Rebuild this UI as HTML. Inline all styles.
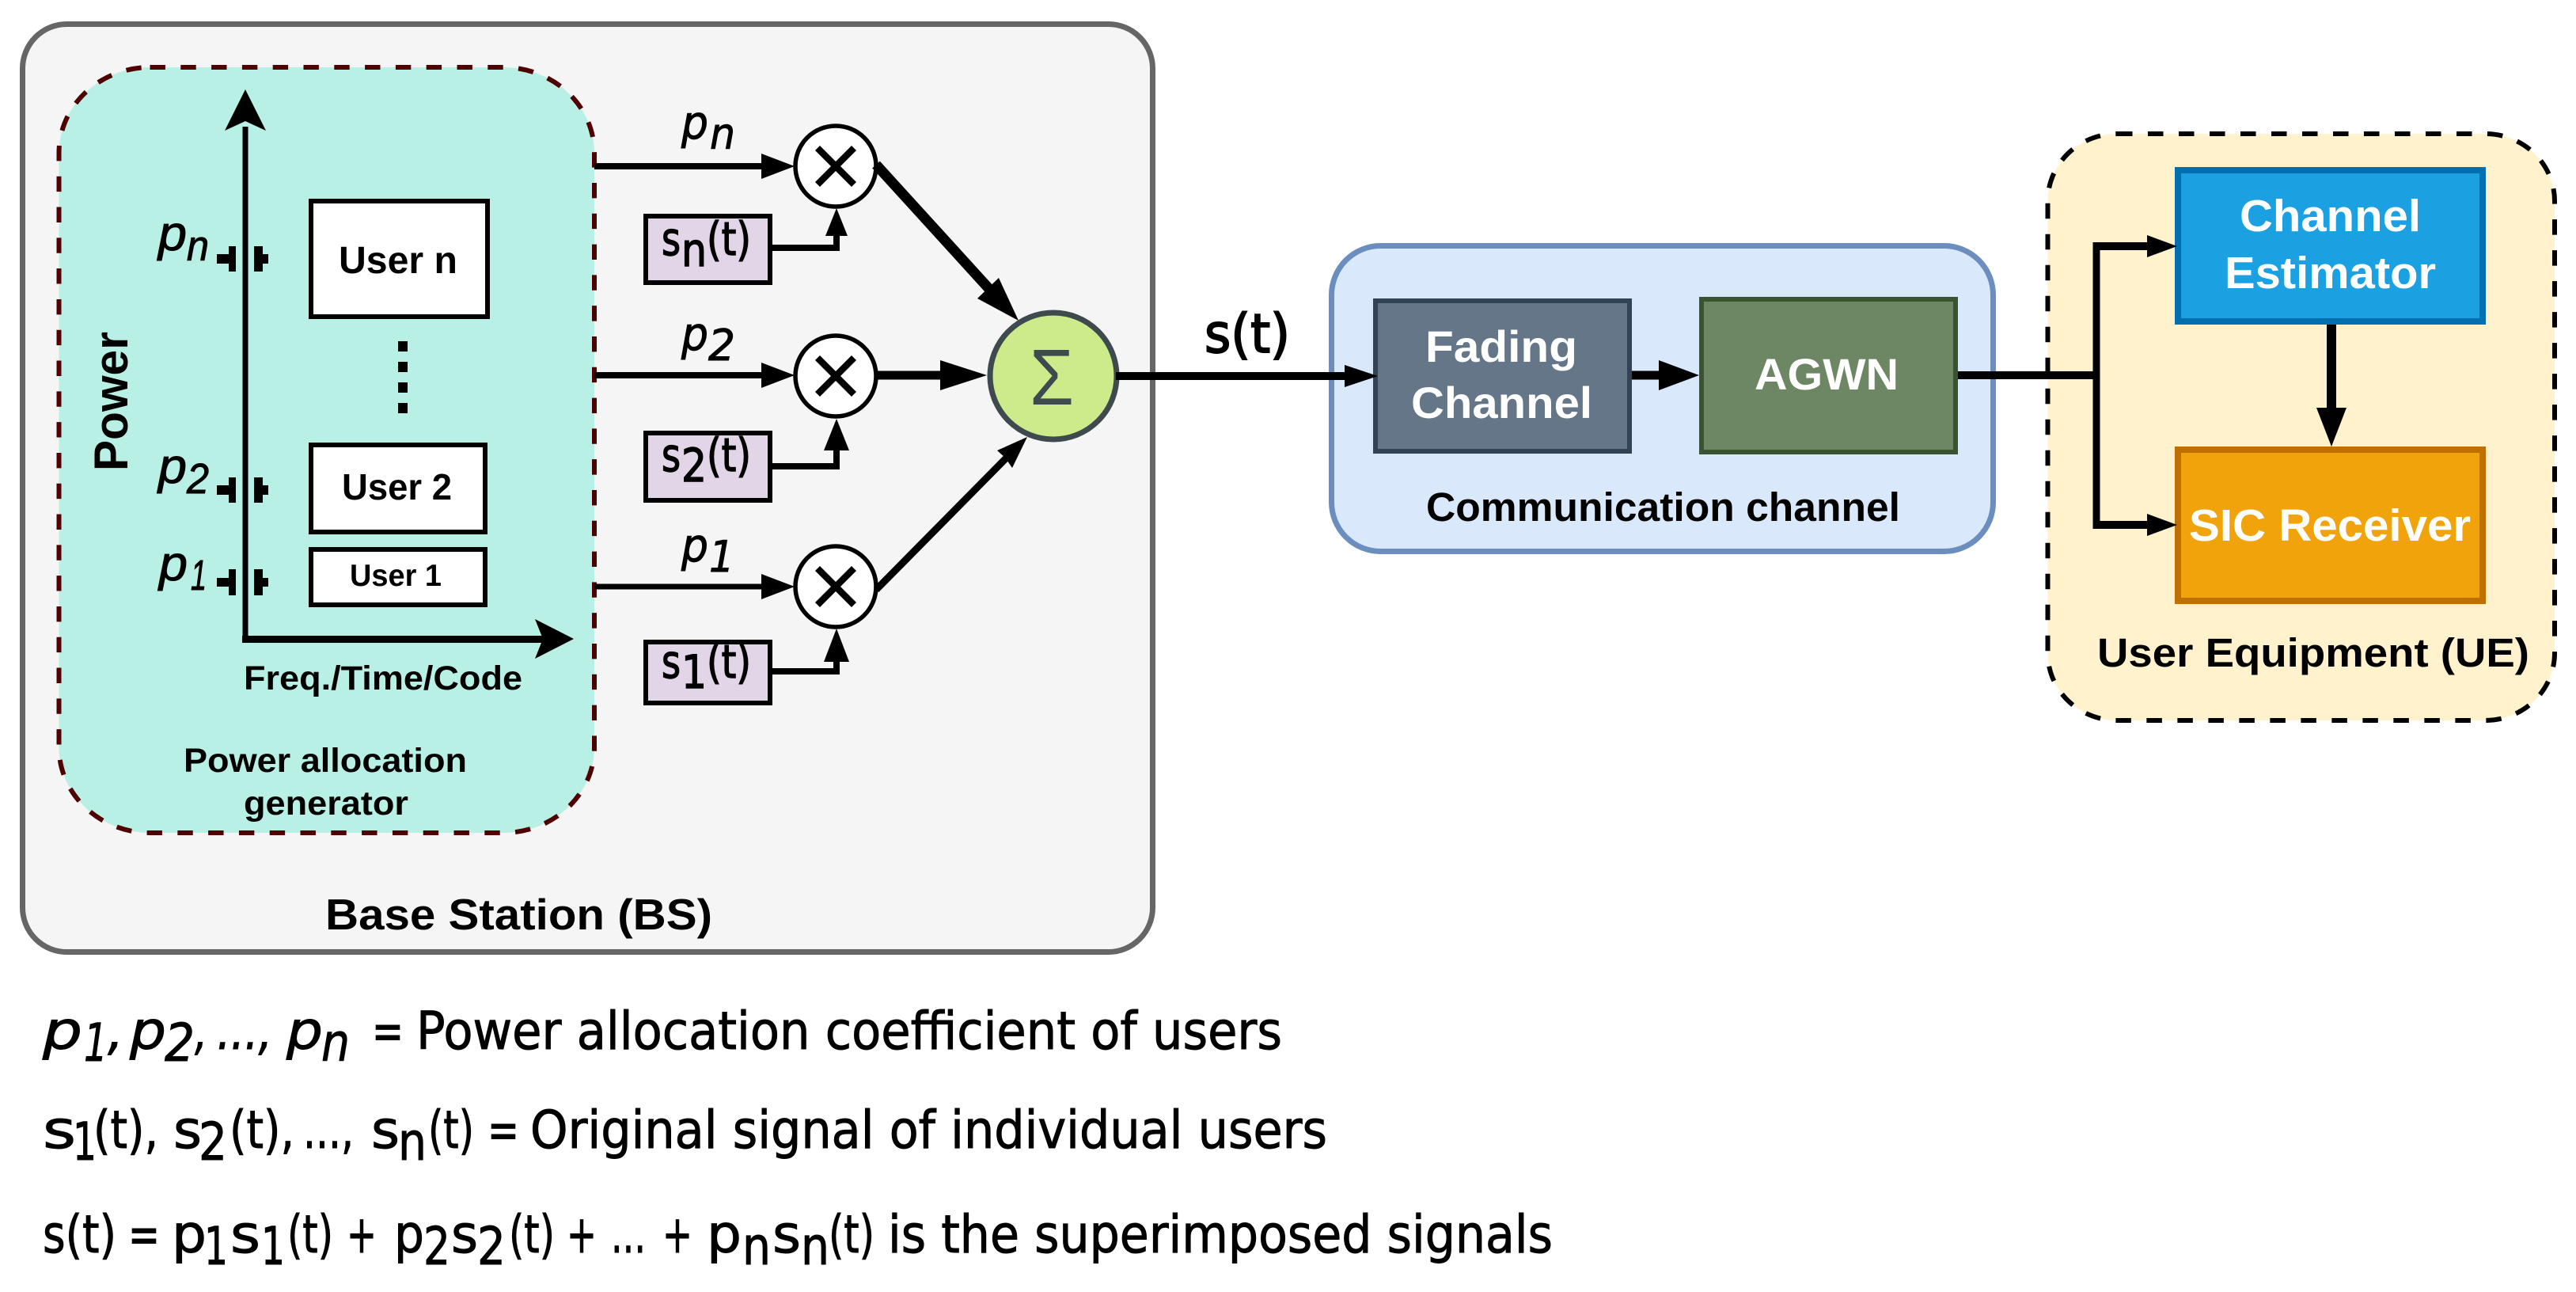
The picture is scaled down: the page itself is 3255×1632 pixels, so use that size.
<!DOCTYPE html>
<html>
<head>
<meta charset="utf-8">
<style>
html,body{margin:0;padding:0;background:#fff;}
svg{display:block;}
.b{font-family:"Liberation Sans",sans-serif;font-weight:bold;}
.w{fill:#fff;}
.i{font-family:"Liberation Sans",sans-serif;font-style:italic;stroke:#000;stroke-width:1;}
.n{font-family:"DejaVu Sans","Liberation Sans",sans-serif;stroke:#000;stroke-width:1;}
.m{font-family:"DejaVu Sans","Liberation Sans",sans-serif;font-style:italic;stroke:#000;stroke-width:1;}
</style>
</head>
<body>
<svg xmlns="http://www.w3.org/2000/svg" width="3255" height="1632" viewBox="0 0 3255 1632">
<rect width="3255" height="1632" fill="#fff"/>

<!-- Base station -->
<rect x="28.5" y="30.5" width="1428" height="1172" rx="56" ry="56" fill="#f5f5f5" stroke="#666" stroke-width="7"/>
<!-- Power allocation generator -->
<rect x="74.5" y="85" width="676.5" height="967" rx="115" ry="108" fill="#b9f0e5" stroke="#4f0000" stroke-width="6" stroke-dasharray="19.4 19.4"/>

<!-- axes -->
<path d="M310 160V807H680" fill="none" stroke="#000" stroke-width="7"/>
<rect x="306" y="803" width="380" height="9" fill="#000"/>
<polygon points="310,113 336,165 310,153 284,165" fill="#000"/>
<polygon points="725,807 676,782 686,807 676,832" fill="#000"/>
<!-- ticks -->
<g fill="#000">
<path d="M274 321h15v-10h9v32h-9v-10h-15zM321 311h11v10h7v12h-7v10h-11z"/>
<path d="M274 613h15v-10h9v32h-9v-10h-15zM321 603h11v10h7v12h-7v10h-11z"/>
<path d="M274 730h15v-11h9v33h-9v-11h-15zM321 719h11v11h7v11h-7v11h-11z"/>
</g>
<!-- user boxes -->
<rect x="393" y="254" width="223" height="146" fill="#fff" stroke="#000" stroke-width="6"/>
<rect x="393" y="562" width="220" height="110" fill="#fff" stroke="#000" stroke-width="6"/>
<rect x="393" y="694" width="220" height="70" fill="#fff" stroke="#000" stroke-width="6"/>
<g fill="#000">
<rect x="503" y="431" width="12" height="13"/>
<rect x="503" y="457" width="12" height="13"/>
<rect x="503" y="483" width="12" height="13"/>
<rect x="503" y="509" width="12" height="13"/>
</g>

<text class="b" x="428" y="345" font-size="48" textLength="150" lengthAdjust="spacingAndGlyphs">User n</text>
<text class="b" x="432" y="631" font-size="46" textLength="139" lengthAdjust="spacingAndGlyphs">User 2</text>
<text class="b" x="442" y="740" font-size="39" textLength="116" lengthAdjust="spacingAndGlyphs">User 1</text>
<text class="b" x="308" y="871" font-size="43" textLength="352" lengthAdjust="spacingAndGlyphs">Freq./Time/Code</text>
<text class="b" x="232" y="975" font-size="43" textLength="358" lengthAdjust="spacingAndGlyphs">Power allocation</text>
<text class="b" x="308" y="1029" font-size="43" textLength="208" lengthAdjust="spacingAndGlyphs">generator</text>
<text class="b" x="411" y="1174" font-size="55" textLength="489" lengthAdjust="spacingAndGlyphs">Base Station (BS)</text>
<text class="b" font-size="60" transform="translate(161,595) rotate(-90)" textLength="176" lengthAdjust="spacingAndGlyphs">Power</text>

<!-- left p labels -->
<text class="i" x="200" y="316" font-size="62" textLength="36" lengthAdjust="spacingAndGlyphs">p</text>
<text class="i" x="236" y="329" font-size="54" textLength="28" lengthAdjust="spacingAndGlyphs">n</text>
<text class="i" x="200" y="610" font-size="62" textLength="36" lengthAdjust="spacingAndGlyphs">p</text>
<text class="i" x="236" y="623" font-size="54" textLength="28" lengthAdjust="spacingAndGlyphs">2</text>
<text class="i" x="201" y="733" font-size="62" textLength="36" lengthAdjust="spacingAndGlyphs">p</text>
<text class="i" x="241" y="745" font-size="54" textLength="20" lengthAdjust="spacingAndGlyphs">1</text>

<!-- wires to multipliers -->
<g fill="#000">
<rect x="751" y="206" width="215" height="8"/>
<polygon points="1004,210 962,194 962,226"/>
<rect x="751" y="470" width="215" height="8"/>
<polygon points="1004,474 962,458 962,490"/>
<rect x="751" y="737.5" width="215" height="7"/>
<polygon points="1004,741 962,725 962,757"/>
</g>
<!-- multipliers -->
<g fill="#fff" stroke="#000" stroke-width="5.5">
<circle cx="1056" cy="210" r="51"/>
<circle cx="1056" cy="475" r="51"/>
<circle cx="1056" cy="741" r="51"/>
</g>
<g stroke="#000" stroke-width="8.5" fill="none">
<path d="M1033 187L1079 233M1079 187L1033 233"/>
<path d="M1033 452L1079 498M1079 452L1033 498"/>
<path d="M1033 718L1079 764M1079 718L1033 764"/>
</g>

<!-- signal boxes -->
<g fill="#e1d5e7" stroke="#000" stroke-width="6">
<rect x="816" y="273" width="157" height="84"/>
<rect x="816" y="547" width="157" height="85"/>
<rect x="816" y="811" width="157" height="77"/>
</g>
<path d="M973 313H1057V295" fill="none" stroke="#000" stroke-width="8"/>
<polygon points="1057,263 1071,298 1043,298" fill="#000"/>
<path d="M973 589H1057V565" fill="none" stroke="#000" stroke-width="8"/>
<polygon points="1057,529 1073,569 1041,569" fill="#000"/>
<path d="M973 848H1057V832" fill="none" stroke="#000" stroke-width="8"/>
<polygon points="1057,794 1073,836 1041,836" fill="#000"/>

<text class="n" x="836" y="322" font-size="58" textLength="24" lengthAdjust="spacingAndGlyphs" style="stroke-width:1.5">s</text>
<text class="n" x="861" y="336" font-size="58" textLength="32" lengthAdjust="spacingAndGlyphs" style="stroke-width:1.5">n</text>
<text class="n" x="893" y="322" font-size="58" textLength="56" lengthAdjust="spacingAndGlyphs" style="stroke-width:1.5">(t)</text>
<text class="n" x="836" y="595" font-size="58" textLength="24" lengthAdjust="spacingAndGlyphs" style="stroke-width:1.5">s</text>
<text class="n" x="861" y="608" font-size="58" textLength="32" lengthAdjust="spacingAndGlyphs" style="stroke-width:1.5">2</text>
<text class="n" x="893" y="595" font-size="58" textLength="56" lengthAdjust="spacingAndGlyphs" style="stroke-width:1.5">(t)</text>
<text class="n" x="836" y="856" font-size="58" textLength="24" lengthAdjust="spacingAndGlyphs" style="stroke-width:1.5">s</text>
<text class="n" x="861" y="869" font-size="58" textLength="32" lengthAdjust="spacingAndGlyphs" style="stroke-width:1.5">1</text>
<text class="n" x="893" y="856" font-size="58" textLength="56" lengthAdjust="spacingAndGlyphs" style="stroke-width:1.5">(t)</text>

<!-- middle p labels -->
<text class="m" x="861" y="175" font-size="58" textLength="34" lengthAdjust="spacingAndGlyphs">p</text>
<text class="m" x="897" y="188" font-size="54" textLength="32" lengthAdjust="spacingAndGlyphs">n</text>
<text class="m" x="861" y="442" font-size="58" textLength="34" lengthAdjust="spacingAndGlyphs">p</text>
<text class="m" x="895" y="455" font-size="54" textLength="34" lengthAdjust="spacingAndGlyphs">2</text>
<text class="m" x="861" y="709" font-size="58" textLength="34" lengthAdjust="spacingAndGlyphs">p</text>
<text class="m" x="896" y="722" font-size="54" textLength="32" lengthAdjust="spacingAndGlyphs">1</text>

<!-- to summer -->
<line x1="1107" y1="208" x2="1250" y2="365" stroke="#000" stroke-width="13"/>
<polygon points="1287,405 1262,351 1235,377" fill="#000"/>
<rect x="1107" y="468.5" width="85" height="11" fill="#000"/>
<polygon points="1247,474 1188,455 1188,493" fill="#000"/>
<line x1="1107" y1="745" x2="1272" y2="578" stroke="#000" stroke-width="9"/>
<polygon points="1298,552 1260,569 1270,578 1279,591" fill="#000"/>

<!-- summer -->
<circle cx="1331" cy="475" r="80" fill="#cdeb8b" stroke="#3f4a4f" stroke-width="7"/>
<text x="1301" y="511" font-family="'Liberation Sans',sans-serif" font-size="100" fill="#3f4a4f" textLength="56" lengthAdjust="spacingAndGlyphs">Σ</text>

<!-- Comm channel -->
<rect x="1682.5" y="310.5" width="836" height="386" rx="62" ry="62" fill="#dae8fc" stroke="#6c8ebf" stroke-width="7"/>
<rect x="1738" y="380" width="321" height="190" fill="#647687" stroke="#314354" stroke-width="6"/>
<rect x="2150" y="378" width="321" height="193" fill="#6d8764" stroke="#3a5431" stroke-width="6"/>

<!-- UE -->
<rect x="2587.5" y="169" width="640.5" height="741" rx="87.5" ry="85" fill="#fff2cc" stroke="#000" stroke-width="6" stroke-dasharray="19.5 19.5"/>
<rect x="2752" y="215" width="385" height="191" fill="#1ba1e2" stroke="#006eaf" stroke-width="8"/>
<rect x="2752" y="568" width="385" height="191" fill="#f0a30a" stroke="#bd7000" stroke-width="8"/>

<!-- main wires -->
<g fill="#000">
<rect x="1410" y="470" width="295" height="10"/>
<polygon points="1741,475 1699,461 1699,489"/>
<rect x="2062" y="468.5" width="40" height="11"/>
<polygon points="2147,474 2096,455 2096,493"/>
<rect x="2474" y="469" width="178" height="10"/>
<rect x="2644.5" y="306" width="9" height="362"/>
<rect x="2644.5" y="306" width="72" height="10"/>
<polygon points="2751,311 2713,297 2713,325"/>
<rect x="2644.5" y="658" width="72" height="10"/>
<polygon points="2751,663 2713,649 2713,677"/>
<rect x="2940" y="410" width="12" height="110"/>
<polygon points="2946,564 2927,515 2965,515"/>
</g>

<text class="n" x="1522" y="445" font-size="68" textLength="108" lengthAdjust="spacingAndGlyphs" style="stroke-width:2">s(t)</text>

<text class="b w" x="1801" y="457" font-size="56" textLength="192" lengthAdjust="spacingAndGlyphs">Fading</text>
<text class="b w" x="1783" y="528" font-size="56" textLength="229" lengthAdjust="spacingAndGlyphs">Channel</text>
<text class="b w" x="2217" y="492" font-size="56" textLength="182" lengthAdjust="spacingAndGlyphs">AGWN</text>
<text class="b" x="1802" y="658" font-size="51" textLength="599" lengthAdjust="spacingAndGlyphs">Communication channel</text>
<text class="b w" x="2830" y="292" font-size="57" textLength="229" lengthAdjust="spacingAndGlyphs">Channel</text>
<text class="b w" x="2811" y="364" font-size="57" textLength="267" lengthAdjust="spacingAndGlyphs">Estimator</text>
<text class="b w" x="2766" y="683" font-size="57" textLength="356" lengthAdjust="spacingAndGlyphs">SIC Receiver</text>
<text class="b" x="2650" y="842" font-size="51" textLength="546" lengthAdjust="spacingAndGlyphs">User Equipment (UE)</text>

<!-- Bottom text line 1 -->
<g font-size="66">
<text class="m" x="54" y="1325" textLength="50" lengthAdjust="spacingAndGlyphs">p</text>
<text class="m" x="106" y="1340" textLength="30" lengthAdjust="spacingAndGlyphs">1</text>
<text class="m" x="136" y="1325" textLength="20" lengthAdjust="spacingAndGlyphs">,</text>
<text class="m" x="164" y="1325" textLength="46" lengthAdjust="spacingAndGlyphs">p</text>
<text class="m" x="208" y="1340" textLength="38" lengthAdjust="spacingAndGlyphs">2</text>
<text class="m" x="246" y="1325" textLength="16" lengthAdjust="spacingAndGlyphs">,</text>
<text class="m" x="274" y="1325" textLength="70" lengthAdjust="spacingAndGlyphs">...,</text>
<text class="m" x="362" y="1325" textLength="46" lengthAdjust="spacingAndGlyphs">p</text>
<text class="m" x="406" y="1340" textLength="36" lengthAdjust="spacingAndGlyphs">n</text>
<text class="n" x="470" y="1325" textLength="40" lengthAdjust="spacingAndGlyphs">=</text>
<text class="n" x="526" y="1325" textLength="1094" lengthAdjust="spacingAndGlyphs">Power allocation coefficient of users</text>

<!-- line 2 -->
<text class="n" x="54" y="1450" textLength="42" lengthAdjust="spacingAndGlyphs">s</text>
<text class="n" x="92" y="1465" textLength="30" lengthAdjust="spacingAndGlyphs">1</text>
<text class="n" x="118" y="1450" textLength="82" lengthAdjust="spacingAndGlyphs">(t),</text>
<text class="n" x="219" y="1450" textLength="36" lengthAdjust="spacingAndGlyphs">s</text>
<text class="n" x="251" y="1465" textLength="36" lengthAdjust="spacingAndGlyphs">2</text>
<text class="n" x="290" y="1450" textLength="82" lengthAdjust="spacingAndGlyphs">(t),</text>
<text class="n" x="383" y="1450" textLength="64" lengthAdjust="spacingAndGlyphs">...,</text>
<text class="n" x="469" y="1450" textLength="36" lengthAdjust="spacingAndGlyphs">s</text>
<text class="n" x="503" y="1465" textLength="36" lengthAdjust="spacingAndGlyphs">n</text>
<text class="n" x="541" y="1450" textLength="58" lengthAdjust="spacingAndGlyphs">(t)</text>
<text class="n" x="616" y="1450" textLength="40" lengthAdjust="spacingAndGlyphs">=</text>
<text class="n" x="670" y="1450" textLength="1007" lengthAdjust="spacingAndGlyphs">Original signal of individual users</text>

<!-- line 3 -->
<text class="n" x="54" y="1582" textLength="93" lengthAdjust="spacingAndGlyphs">s(t)</text>
<text class="n" x="162" y="1582" textLength="40" lengthAdjust="spacingAndGlyphs">=</text>
<text class="n" x="217" y="1582" textLength="44" lengthAdjust="spacingAndGlyphs">p</text>
<text class="n" x="258" y="1597" textLength="30" lengthAdjust="spacingAndGlyphs">1</text>
<text class="n" x="291" y="1582" textLength="38" lengthAdjust="spacingAndGlyphs">s</text>
<text class="n" x="330" y="1597" textLength="30" lengthAdjust="spacingAndGlyphs">1</text>
<text class="n" x="363" y="1582" textLength="58" lengthAdjust="spacingAndGlyphs">(t)</text>
<text class="n" x="438" y="1582" textLength="38" lengthAdjust="spacingAndGlyphs">+</text>
<text class="n" x="498" y="1582" textLength="38" lengthAdjust="spacingAndGlyphs">p</text>
<text class="n" x="535" y="1597" textLength="34" lengthAdjust="spacingAndGlyphs">2</text>
<text class="n" x="570" y="1582" textLength="34" lengthAdjust="spacingAndGlyphs">s</text>
<text class="n" x="603" y="1597" textLength="36" lengthAdjust="spacingAndGlyphs">2</text>
<text class="n" x="643" y="1582" textLength="58" lengthAdjust="spacingAndGlyphs">(t)</text>
<text class="n" x="716" y="1582" textLength="38" lengthAdjust="spacingAndGlyphs">+</text>
<text class="n" x="772" y="1582" textLength="44" lengthAdjust="spacingAndGlyphs">...</text>
<text class="n" x="837" y="1582" textLength="38" lengthAdjust="spacingAndGlyphs">+</text>
<text class="n" x="893" y="1582" textLength="44" lengthAdjust="spacingAndGlyphs">p</text>
<text class="n" x="938" y="1597" textLength="36" lengthAdjust="spacingAndGlyphs">n</text>
<text class="n" x="976" y="1582" textLength="36" lengthAdjust="spacingAndGlyphs">s</text>
<text class="n" x="1012" y="1597" textLength="36" lengthAdjust="spacingAndGlyphs">n</text>
<text class="n" x="1047" y="1582" textLength="58" lengthAdjust="spacingAndGlyphs">(t)</text>
<text class="n" x="1122" y="1582" textLength="840" lengthAdjust="spacingAndGlyphs">is the superimposed signals</text>
</g>
</svg>
</body>
</html>
